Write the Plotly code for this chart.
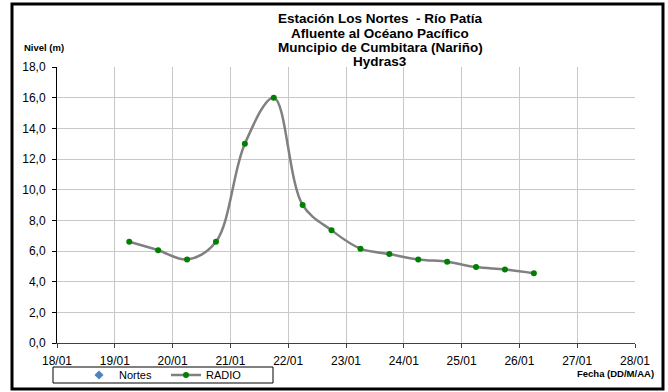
import plotly.graph_objects as go

# ---- data ----
days = [19.25, 19.75, 20.25, 20.75, 21.25, 21.75, 22.25, 22.75,
        23.25, 23.75, 24.25, 24.75, 25.25, 25.75, 26.25]
radio = [6.6, 6.05, 5.45, 6.6, 13.0, 16.0, 9.0, 7.35,
         6.15, 5.8, 5.45, 5.3, 4.95, 4.8, 4.55]
x_tick_vals = [18, 19, 20, 21, 22, 23, 24, 25, 26, 27, 28]
x_tick_labels = ["18/01", "19/01", "20/01", "21/01", "22/01", "23/01",
                 "24/01", "25/01", "26/01", "27/01", "28/01"]
y_tick_vals = [0, 2, 4, 6, 8, 10, 12, 14, 16, 18]
y_tick_labels = ["0,0", "2,0", "4,0", "6,0", "8,0", "10,0", "12,0",
                 "14,0", "16,0", "18,0"]
title_lines = ["Estación Los Nortes  - Río Patía",
               "Afluente al Océano Pacífico",
               "Muncipio de Cumbitara (Nariño)",
               "Hydras3"]

# ---- layout geometry (pixels) ----
W, H = 668, 392
PL, PR, PT, PB = 57, 635, 67, 343


def px(x):
    return (x - PL) / (PR - PL)


def py(y):
    return (PB - y) / (PB - PT)


FONT = "Liberation Sans, Arial, sans-serif"

fig = go.Figure()
fig.add_trace(go.Scatter(
    x=[None], y=[None], name="Nortes", mode="markers",
    marker=dict(symbol="diamond", color="#4f81bd", size=7)))
fig.add_trace(go.Scatter(
    x=days, y=radio, name="RADIO", mode="lines+markers",
    line=dict(color="#808080", width=2.5, shape="spline", smoothing=1.0),
    marker=dict(color="#008000", size=6)))

annotations = []
for i, t in enumerate(title_lines):
    annotations.append(dict(
        text="<b>%s</b>" % t, x=px(380), y=py(19 + i * 14.3),
        xref="paper", yref="paper", xanchor="center", yanchor="middle",
        showarrow=False, font=dict(family=FONT, size=13.5, color="black")))
annotations.append(dict(
    text="<b>Nivel (m)</b>", x=px(22), y=py(48), xref="paper", yref="paper",
    xanchor="left", yanchor="middle", showarrow=False,
    font=dict(family=FONT, size=9.5, color="black")))
annotations.append(dict(
    text="<b>Fecha (DD/M/AA)</b>", x=px(656), y=py(373), xref="paper",
    yref="paper", xanchor="right", yanchor="middle", showarrow=False,
    font=dict(family=FONT, size=9.5, color="black")))

shapes = [
    dict(type="rect", xref="paper", yref="paper",
         x0=px(12), x1=px(663), y0=py(389), y1=py(4),
         line=dict(color="black", width=3), fillcolor="rgba(0,0,0,0)"),
    dict(type="rect", xref="paper", yref="paper",
         x0=px(53), x1=px(273), y0=py(383), y1=py(367),
         line=dict(color="black", width=1), fillcolor="white"),
]

fig.update_layout(
    width=W, height=H,
    margin=dict(l=PL, r=W - PR, t=PT, b=H - PB, pad=0, autoexpand=False),
    paper_bgcolor="white", plot_bgcolor="white",
    font=dict(family=FONT, size=12, color="black"),
    showlegend=True,
    legend=dict(orientation="h", x=px(79), y=py(375), xanchor="left",
                yanchor="middle", bgcolor="rgba(0,0,0,0)", borderwidth=0,
                font=dict(family=FONT, size=11, color="black"),
                entrywidth=42, tracegroupgap=0),
    annotations=annotations,
    shapes=shapes,
    xaxis=dict(range=[18, 28], tickvals=x_tick_vals, ticktext=x_tick_labels,
               showgrid=True, gridcolor="#c8c8c8", gridwidth=1,
               showline=True, linecolor="#404040", linewidth=1,
               ticks="outside", ticklen=4, tickcolor="#404040",
               ticklabelstandoff=3,
               zeroline=False, tickfont=dict(size=12)),
    yaxis=dict(range=[0, 18], tickvals=y_tick_vals, ticktext=y_tick_labels,
               showgrid=True, gridcolor="#c8c8c8", gridwidth=1,
               showline=True, linecolor="black", linewidth=1,
               ticks="outside", ticklen=4, tickcolor="black",
               ticklabelstandoff=4,
               zeroline=False, tickfont=dict(size=12)),
)

fig.write_html("out.html", config={"displayModeBar": False},
               post_script="document.body.style.margin='0px';")
